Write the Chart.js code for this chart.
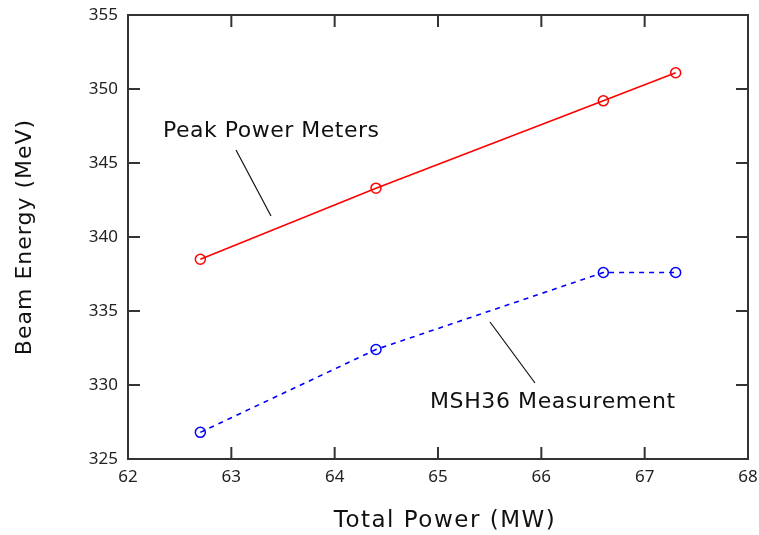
<!DOCTYPE html>
<html>
<head>
<meta charset="utf-8">
<script src="https://cdn.jsdelivr.net/npm/chart.js@4"></script>
<style>
    html, body { margin: 0; padding: 0; background: #fff; }
    #wrap { width: 759px; height: 535px; }
</style>
</head>
<body>
<div id="wrap"><canvas id="beamChart" width="759" height="535"></canvas></div>
<script>
// --- Data ---
const totalPower = [62.7, 64.4, 66.6, 67.3];
const peakPowerMeters = [338.5, 343.3, 349.2, 351.1];
const msh36Measurement = [326.8, 332.4, 337.6, 337.6];
const xTicks = [62, 63, 64, 65, 66, 67, 68];
const yTicks = [325, 330, 335, 340, 345, 350, 355];

const textFont = '"DejaVu Sans", "Noto Sans", sans-serif';
const tickFont = '"Noto Sans", "DejaVu Sans", sans-serif';
const axisColor = '#333';

function toPoints(ys) {
    return totalPower.map((x, i) => ({ x: x, y: ys[i] }));
}

function drawLabel(ctx, text, x, y, size, spacing, align, rotate) {
    ctx.save();
    ctx.translate(x, y);
    if (rotate) ctx.rotate(-Math.PI / 2);
    ctx.font = size + 'px ' + textFont;
    ctx.letterSpacing = spacing + 'px';
    ctx.textAlign = align;
    ctx.textBaseline = 'middle';
    ctx.fillStyle = '#111';
    ctx.fillText(text, 0, 0);
    ctx.restore();
}

// frame on all four sides, inward ticks, axis titles and the two callouts
const framePlugin = {
    id: 'frame',
    afterDraw(chart) {
        const { ctx, chartArea: a, scales } = chart;
        const xs = scales.x, ys = scales.y;
        const tick = 12;
        ctx.save();
        ctx.strokeStyle = axisColor;
        ctx.lineWidth = 2;
        ctx.strokeRect(a.left, a.top, a.right - a.left, a.bottom - a.top);
        ctx.beginPath();
        xTicks.forEach(v => {
            const px = xs.getPixelForValue(v);
            ctx.moveTo(px, a.bottom); ctx.lineTo(px, a.bottom - tick);
            ctx.moveTo(px, a.top); ctx.lineTo(px, a.top + tick);
        });
        yTicks.forEach(v => {
            const py = ys.getPixelForValue(v);
            ctx.moveTo(a.left, py); ctx.lineTo(a.left + tick, py);
            ctx.moveTo(a.right, py); ctx.lineTo(a.right - tick, py);
        });
        ctx.stroke();

        ctx.strokeStyle = '#111';
        ctx.lineWidth = 1.2;
        ctx.beginPath();
        ctx.moveTo(236, 150); ctx.lineTo(271, 216);
        ctx.moveTo(490, 322); ctx.lineTo(535, 383);
        ctx.stroke();
        ctx.restore();

        drawLabel(ctx, 'Peak Power Meters', 163, 131, 22, 0.5, 'left', false);
        drawLabel(ctx, 'MSH36 Measurement', 430, 402, 22, 0.6, 'left', false);
        drawLabel(ctx, 'Total Power (MW)', 445, 521, 23, 1.5, 'center', false);
        drawLabel(ctx, 'Beam Energy (MeV)', 25, 237, 22, 1, 'center', true);
    }
};

new Chart(document.getElementById('beamChart'), {
    type: 'line',
    data: {
        datasets: [
            {
                label: 'Peak Power Meters',
                data: toPoints(peakPowerMeters),
                borderColor: '#ff0000',
                backgroundColor: 'rgba(0,0,0,0)',
                borderWidth: 1.6,
                pointRadius: 5,
                pointBorderWidth: 1.5,
                pointBorderColor: '#ff0000',
                pointBackgroundColor: 'rgba(0,0,0,0)',
                tension: 0
            },
            {
                label: 'MSH36 Measurement',
                data: toPoints(msh36Measurement),
                borderColor: '#0000ff',
                backgroundColor: 'rgba(0,0,0,0)',
                borderWidth: 1.6,
                borderDash: [5, 5],
                pointRadius: 5,
                pointBorderWidth: 1.5,
                pointBorderColor: '#0000ff',
                pointBackgroundColor: 'rgba(0,0,0,0)',
                tension: 0
            }
        ]
    },
    options: {
        responsive: false,
        animation: false,
        events: [],
        layout: { padding: { left: 0, right: 11, top: 15, bottom: 0 } },
        plugins: { legend: { display: false }, tooltip: { enabled: false } },
        scales: {
            x: {
                type: 'linear',
                min: 62, max: 68,
                afterFit(s) { s.height = 76; s.paddingLeft = 0; s.paddingRight = 0; },
                afterBuildTicks(s) { s.ticks = xTicks.map(v => ({ value: v })); },
                grid: { display: false, drawTicks: false },
                border: { display: true, color: axisColor, width: 2 },
                ticks: { color: '#222', padding: 8, font: { family: tickFont, size: 17 }, maxRotation: 0 }
            },
            y: {
                type: 'linear',
                min: 325, max: 355,
                afterFit(s) { s.width = 128; s.paddingTop = 0; s.paddingBottom = 0; },
                afterBuildTicks(s) { s.ticks = yTicks.map(v => ({ value: v })); },
                grid: { display: false, drawTicks: false },
                border: { display: true, color: axisColor, width: 2 },
                ticks: { color: '#222', padding: 10, font: { family: tickFont, size: 17 } }
            }
        }
    },
    plugins: [framePlugin]
});
</script>
</body>
</html>
